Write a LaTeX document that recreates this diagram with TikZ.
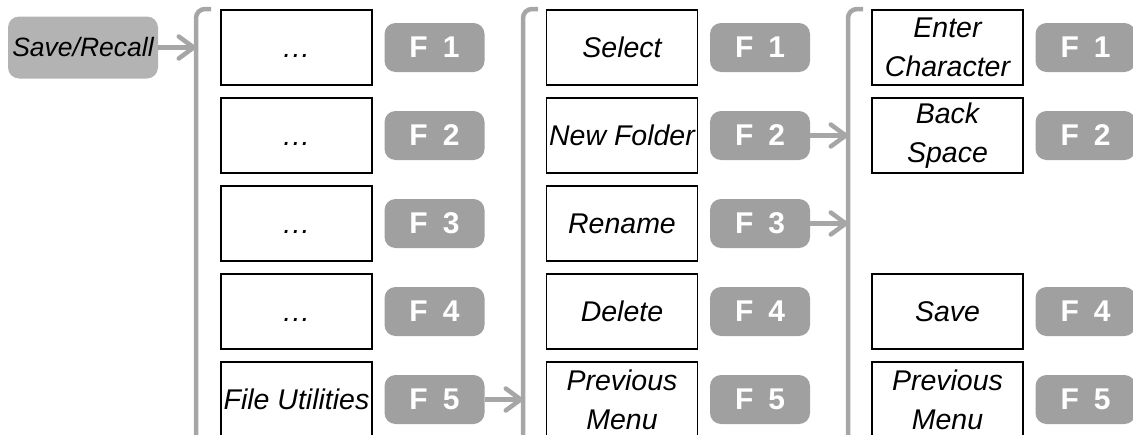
\documentclass[tikz,border=0pt]{standalone}
\usepackage{fontspec}
\setmainfont{Liberation Sans}
\usetikzlibrary{arrows.meta}
\definecolor{srfill}{HTML}{B3B3B3}
\definecolor{btnfill}{HTML}{A0A0A0}
\definecolor{brk}{HTML}{A6A6A6}
\tikzset{
  menubox/.style={draw=black, line width=1.4pt, fill=white, minimum width=151pt, minimum height=75pt, inner sep=0pt, align=center, font=\fontsize{28.5}{39}\selectfont\itshape},
  fbtn/.style={fill=btnfill, rounded corners=11pt, minimum width=100pt, minimum height=49pt, inner sep=0pt, text=white, font=\fontsize{30}{34}\selectfont\bfseries},
  srbox/.style={fill=srfill, rounded corners=11pt, minimum width=150pt, minimum height=62pt, inner sep=0pt, font=\fontsize{26.5}{32}\selectfont\itshape},
  brack/.style={draw=brk, line width=4.5pt, rounded corners=9pt},
  arr/.style={draw=brk, line width=4.5pt, -{Straight Barb[length=15pt,width=22pt,round]}}
}
\newcommand{\fk}[1]{F\hspace{15pt}#1}
\newcommand{\dotsx}{\vphantom{Select}.\kern1.2pt.\kern1.2pt.}
\begin{document}
\begin{tikzpicture}[x=1pt,y=-1pt]
\useasboundingbox (0,0) rectangle (1133,434);
\clip (0,0) rectangle (1133,434);
% Save/Recall
\node[srbox] (sr) at (83,47.5) {Save/Recall};
% brackets
\coordinate (b1) at (196,9);
\coordinate (b2) at (523,9);
\coordinate (b3) at (848,9);
\draw[brack] (211,9) -- (b1) -- (196,446) -- (211,446);
\draw[brack] (538,9) -- (b2) -- (523,446) -- (538,446);
\draw[brack] (863,9) -- (b3) -- (848,446) -- (863,446);
% column 1
\node[menubox] (a1) at (296.5,47.5) {\dotsx};
\node[menubox] (a2) at (296.5,135.5) {\dotsx};
\node[menubox] (a3) at (296.5,223.5) {\dotsx};
\node[menubox] (a4) at (296.5,311.5) {\dotsx};
\node[menubox] (a5) at (296.5,399.5) {File Utilities};
\node[fbtn] (fa1) at (434.5,47.5) {\fk{1}};
\node[fbtn] (fa2) at (434.5,135.5) {\fk{2}};
\node[fbtn] (fa3) at (434.5,223.5) {\fk{3}};
\node[fbtn] (fa4) at (434.5,311.5) {\fk{4}};
\node[fbtn] (fa5) at (434.5,399.5) {\fk{5}};
% column 2
\node[menubox] (c1) at (622,47.5) {Select};
\node[menubox] (c2) at (622,135.5) {New Folder};
\node[menubox] (c3) at (622,223.5) {Rename};
\node[menubox] (c4) at (622,311.5) {Delete};
\node[menubox] (c5) at (622,399.5) {Previous\\Menu};
\node[fbtn] (fc1) at (760,47.5) {\fk{1}};
\node[fbtn] (fc2) at (760,135.5) {\fk{2}};
\node[fbtn] (fc3) at (760,223.5) {\fk{3}};
\node[fbtn] (fc4) at (760,311.5) {\fk{4}};
\node[fbtn] (fc5) at (760,399.5) {\fk{5}};
% column 3
\node[menubox] (d1) at (947.5,47.5) {Enter\\Character};
\node[menubox] (d2) at (947.5,135.5) {Back\\Space};
\node[menubox] (d4) at (947.5,311.5) {Save};
\node[menubox] (d5) at (947.5,399.5) {Previous\\Menu};
\node[fbtn] (fd1) at (1085.5,47.5) {\fk{1}};
\node[fbtn] (fd2) at (1085.5,135.5) {\fk{2}};
\node[fbtn] (fd4) at (1085.5,311.5) {\fk{4}};
\node[fbtn] (fd5) at (1085.5,399.5) {\fk{5}};
% arrows
\draw[arr] (sr.east) -- (b1 |- sr.east);
\draw[arr] (fa5.east) -- (b2 |- fa5.east);
\draw[arr] (fc2.east) -- (b3 |- fc2.east);
\draw[arr] (fc3.east) -- (b3 |- fc3.east);
\end{tikzpicture}
\end{document}
